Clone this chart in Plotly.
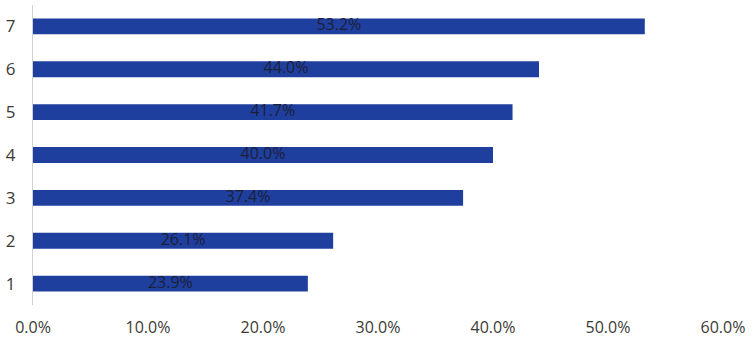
import plotly.graph_objects as go

categories = ["1", "2", "3", "4", "5", "6", "7"]
values = [23.9, 26.1, 37.4, 40.0, 41.7, 44.0, 53.2]
labels = [f"{v:.1f}%" for v in values]
x_ticks = [0, 10, 20, 30, 40, 50, 60]
x_tick_labels = [f"{t:.1f}%" for t in x_ticks]

fig = go.Figure()
fig.add_trace(go.Bar(
    x=values, y=categories, orientation="h",
    marker=dict(color="#1f3f9f", line=dict(width=0)),
    hoverinfo="skip",
))
fig.add_trace(go.Scatter(
    x=[v / 2 for v in values], y=categories, mode="text",
    text=labels, textposition="middle center",
    textfont=dict(color="#1b2038", size=16, family="Open Sans"),
    cliponaxis=False, hoverinfo="skip",
))

fig.update_layout(
    width=755, height=347,
    margin=dict(l=33, r=32, t=5, b=42),
    paper_bgcolor="white", plot_bgcolor="white",
    bargap=0.63, showlegend=False,
    font=dict(family="Open Sans", size=16, color="#3b3a33"),
    xaxis=dict(range=[0, 60], tickvals=x_ticks, ticktext=x_tick_labels,
               showgrid=False, zeroline=False, showline=False, automargin=False,
               ticks="outside", ticklen=8, tickcolor="rgba(0,0,0,0)"),
    yaxis=dict(type="category", showgrid=False, zeroline=False, showline=True,
               linecolor="#d0d0d0", linewidth=1, automargin=False,
               ticks="outside", ticklen=13, tickcolor="rgba(0,0,0,0)",
               tickfont=dict(size=17),
               range=[-0.5, 6.5]),
)

fig.write_html("out.html", config={"displayModeBar": False},
               post_script="document.body.style.margin='0px';")
